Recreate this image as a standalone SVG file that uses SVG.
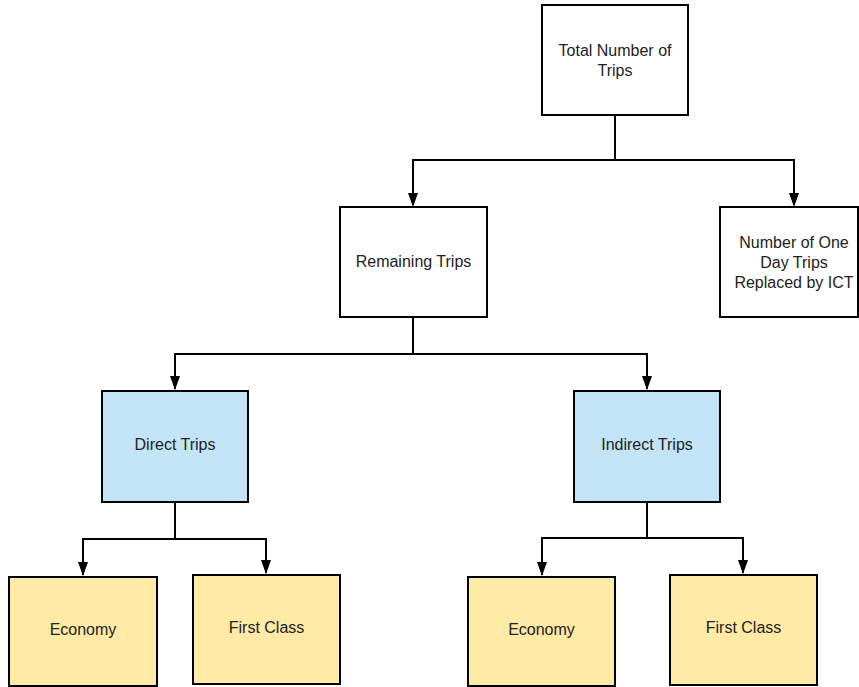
<svg xmlns="http://www.w3.org/2000/svg" width="859" height="687" viewBox="0 0 859 687">
<defs>
<marker id="arr" markerWidth="10" markerHeight="14" refX="5" refY="14" orient="auto-start-reverse" markerUnits="userSpaceOnUse" viewBox="0 0 10 14">
<path d="M0,0 L10,0 L5,14 Z" fill="#000"/>
</marker>
<style>
.box{stroke:#000;stroke-width:2}
.w{fill:#fff}
.b{fill:#c3e4f6}
.y{fill:#ffeaa6}
text{font-family:"Liberation Sans",Arial,sans-serif;font-size:16px;fill:#222;text-anchor:middle}
.c{fill:none;stroke:#000;stroke-width:2}
</style>
</defs>
<rect width="859" height="687" fill="#fff"/>
<g id="connectors">
<path class="c" d="M615,116 V160 H413 V205"/>
<path class="c" d="M615,160 H794 V205"/>
<path class="c" d="M413,318 V354 H175 V389"/>
<path class="c" d="M413,354 H647 V389"/>
<path class="c" d="M175,503 V539 H83 V575"/>
<path class="c" d="M175,539 H266 V573"/>
<path class="c" d="M647,503 V538 H542 V575"/>
<path class="c" d="M647,538 H743 V573"/>
<path d="M408,193 L418,193 L413,207 Z"/>
<path d="M789,193 L799,193 L794,207 Z"/>
<path d="M170,376 L180,376 L175,390 Z"/>
<path d="M642,376 L652,376 L647,390 Z"/>
<path d="M78,562 L88,562 L83,576 Z"/>
<path d="M261,560 L271,560 L266,574 Z"/>
<path d="M537,562 L547,562 L542,576 Z"/>
<path d="M738,560 L748,560 L743,574 Z"/>
</g>
<g id="total">
<rect class="box w" x="542" y="5" width="146" height="110"/>
<text x="615" y="56">Total Number of</text>
<text x="615" y="76">Trips</text>
</g>
<g id="oneday">
<rect class="box w" x="720" y="207" width="138" height="110"/>
<text x="794" y="248">Number of One</text>
<text x="794" y="268">Day Trips</text>
<text x="794" y="288">Replaced by ICT</text>
</g>
<g id="remaining">
<rect class="box w" x="340" y="207" width="147" height="110"/>
<text x="413.5" y="267">Remaining Trips</text>
</g>
<g id="direct">
<rect class="box b" x="102" y="391" width="146" height="111"/>
<text x="175" y="450">Direct Trips</text>
</g>
<g id="indirect">
<rect class="box b" x="574" y="391" width="146" height="111"/>
<text x="647" y="450">Indirect Trips</text>
</g>
<g id="economy1">
<rect class="box y" x="9" y="577" width="148" height="109"/>
<text x="83" y="635">Economy</text>
</g>
<g id="first1">
<rect class="box y" x="193" y="575" width="147" height="109"/>
<text x="266.5" y="633">First Class</text>
</g>
<g id="economy2">
<rect class="box y" x="468" y="577" width="147" height="109"/>
<text x="541.5" y="635">Economy</text>
</g>
<g id="first2">
<rect class="box y" x="670" y="575" width="147" height="110"/>
<text x="743.5" y="633">First Class</text>
</g>
</svg>
